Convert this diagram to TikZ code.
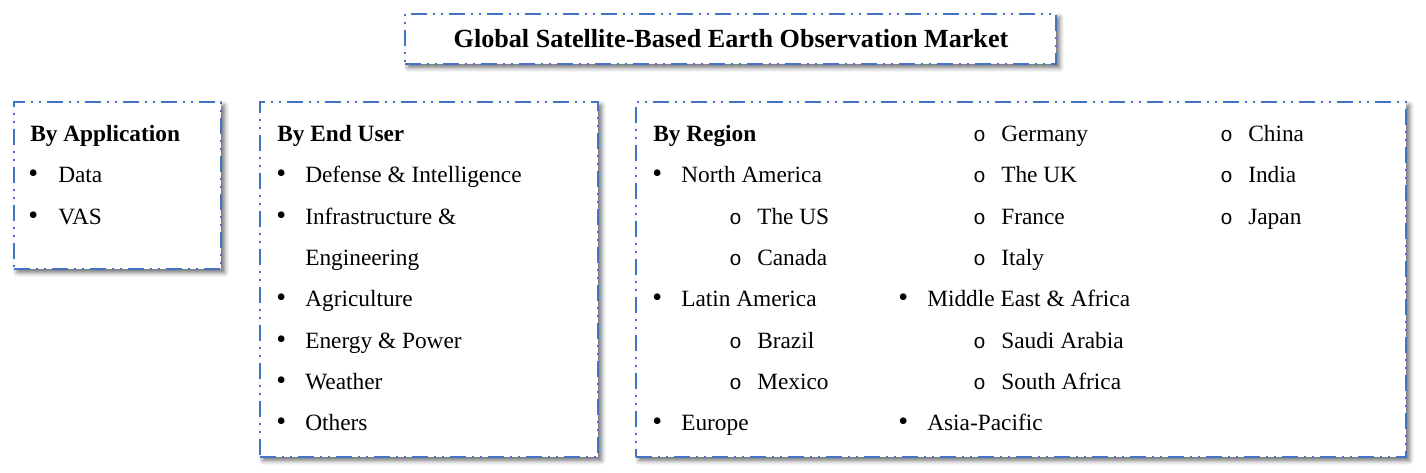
\documentclass[tikz,border=0pt]{standalone}
\usepackage{fontspec}
\setmainfont{Liberation Serif}
\newfontfamily\monof{Liberation Mono}
\usetikzlibrary{shadows.blur,fit}
\definecolor{bl}{HTML}{4472C4}
\begin{document}
\begin{tikzpicture}[x=0.75pt,y=-0.75pt]
\tikzset{
 boxst/.style={draw=bl, line width=1.5pt,
   dash pattern=on 12pt off 4.5pt on 1.5pt off 4.5pt on 1.5pt off 4.5pt,
   fill=white, inner sep=0pt,
   blur shadow={shadow xshift=2.5pt, shadow yshift=-2.5pt, shadow blur radius=3.5pt, shadow opacity=60}},
 txt/.style={anchor=base west, inner sep=0pt, font=\fontsize{17.5}{21}\selectfont},
 hd/.style={anchor=base west, inner sep=0pt, font=\fontsize{17.5}{21}\selectfont\bfseries},
 bul/.style={anchor=base west, inner sep=0pt, font=\fontsize{21}{24}\selectfont},
 sub/.style={anchor=base west, inner sep=0pt, font=\fontsize{15.5}{18}\monof},
}
\useasboundingbox (0,0) rectangle (1426,472);
% boxes
\node[boxst, fit={(405,14)(1056,64)}] (title) {};
\node[boxst, fit={(14,102)(221,269)}] (b1) {};
\node[boxst, fit={(260,102)(598,457)}] (b2) {};
\node[boxst, fit={(636,102)(1406,457)}] (b3) {};
% title
\node[anchor=base, inner sep=0pt, font=\fontsize{19.6}{23}\selectfont\bfseries] (tt) at (731,47) {Global Satellite-Based Earth Observation Market};
% box 1
\node[hd] (h1) at (30,141.5) {By Application};
\node[bul] (b1a) at (28,182.8) {•}; \node[txt] (t1a) at (58,182.8) {Data};
\node[bul] (b1b) at (28,224.1) {•}; \node[txt] (t1b) at (58,224.1) {VAS};
% box 2
\node[hd] (h2) at (277,141.5) {By End User};
\node[bul] (b2a) at (276,182.8) {•}; \node[txt] (t2a) at (305,182.8) {Defense \& Intelligence};
\node[bul] (b2b) at (276,224.1) {•}; \node[txt] (t2b) at (305,224.1) {Infrastructure \&};
\node[txt] (t2c) at (305,265.4) {Engineering};
\node[bul] (b2d) at (276,306.7) {•}; \node[txt] (t2d) at (305,306.7) {Agriculture};
\node[bul] (b2e) at (276,348) {•}; \node[txt] (t2e) at (305,348) {Energy \& Power};
\node[bul] (b2f) at (276,389.3) {•}; \node[txt] (t2f) at (305,389.3) {Weather};
\node[bul] (b2g) at (276,430.6) {•}; \node[txt] (t2g) at (305,430.6) {Others};
% box 3 col 1
\node[hd] (h3) at (653,141.5) {By Region};
\node[bul] (b3a) at (652,182.8) {•}; \node[txt] (t3a) at (681,182.8) {North America};
\node[sub] (s3b) at (729,224.1) {o}; \node[txt] (t3b) at (757,224.1) {The US};
\node[sub] (s3c) at (729,265.4) {o}; \node[txt] (t3c) at (757,265.4) {Canada};
\node[bul] (b3d) at (652,306.7) {•}; \node[txt] (t3d) at (681,306.7) {Latin America};
\node[sub] (s3e) at (729,348) {o}; \node[txt] (t3e) at (757,348) {Brazil};
\node[sub] (s3f) at (729,389.3) {o}; \node[txt] (t3f) at (757,389.3) {Mexico};
\node[bul] (b3g) at (652,430.6) {•}; \node[txt] (t3g) at (681,430.6) {Europe};
% col 2
\node[sub] (s4a) at (973,141.5) {o}; \node[txt] (t4a) at (1001,141.5) {Germany};
\node[sub] (s4b) at (973,182.8) {o}; \node[txt] (t4b) at (1001,182.8) {The UK};
\node[sub] (s4c) at (973,224.1) {o}; \node[txt] (t4c) at (1001,224.1) {France};
\node[sub] (s4d) at (973,265.4) {o}; \node[txt] (t4d) at (1001,265.4) {Italy};
\node[bul] (b4e) at (898,306.7) {•}; \node[txt] (t4e) at (927,306.7) {Middle East \& Africa};
\node[sub] (s4f) at (973,348) {o}; \node[txt] (t4f) at (1001,348) {Saudi Arabia};
\node[sub] (s4g) at (973,389.3) {o}; \node[txt] (t4g) at (1001,389.3) {South Africa};
\node[bul] (b4h) at (898,430.6) {•}; \node[txt] (t4h) at (927,430.6) {Asia-Pacific};
% col 3
\node[sub] (s5a) at (1220,141.5) {o}; \node[txt] (t5a) at (1248,141.5) {China};
\node[sub] (s5b) at (1220,182.8) {o}; \node[txt] (t5b) at (1248,182.8) {India};
\node[sub] (s5c) at (1220,224.1) {o}; \node[txt] (t5c) at (1248,224.1) {Japan};
\end{tikzpicture}
\end{document}
